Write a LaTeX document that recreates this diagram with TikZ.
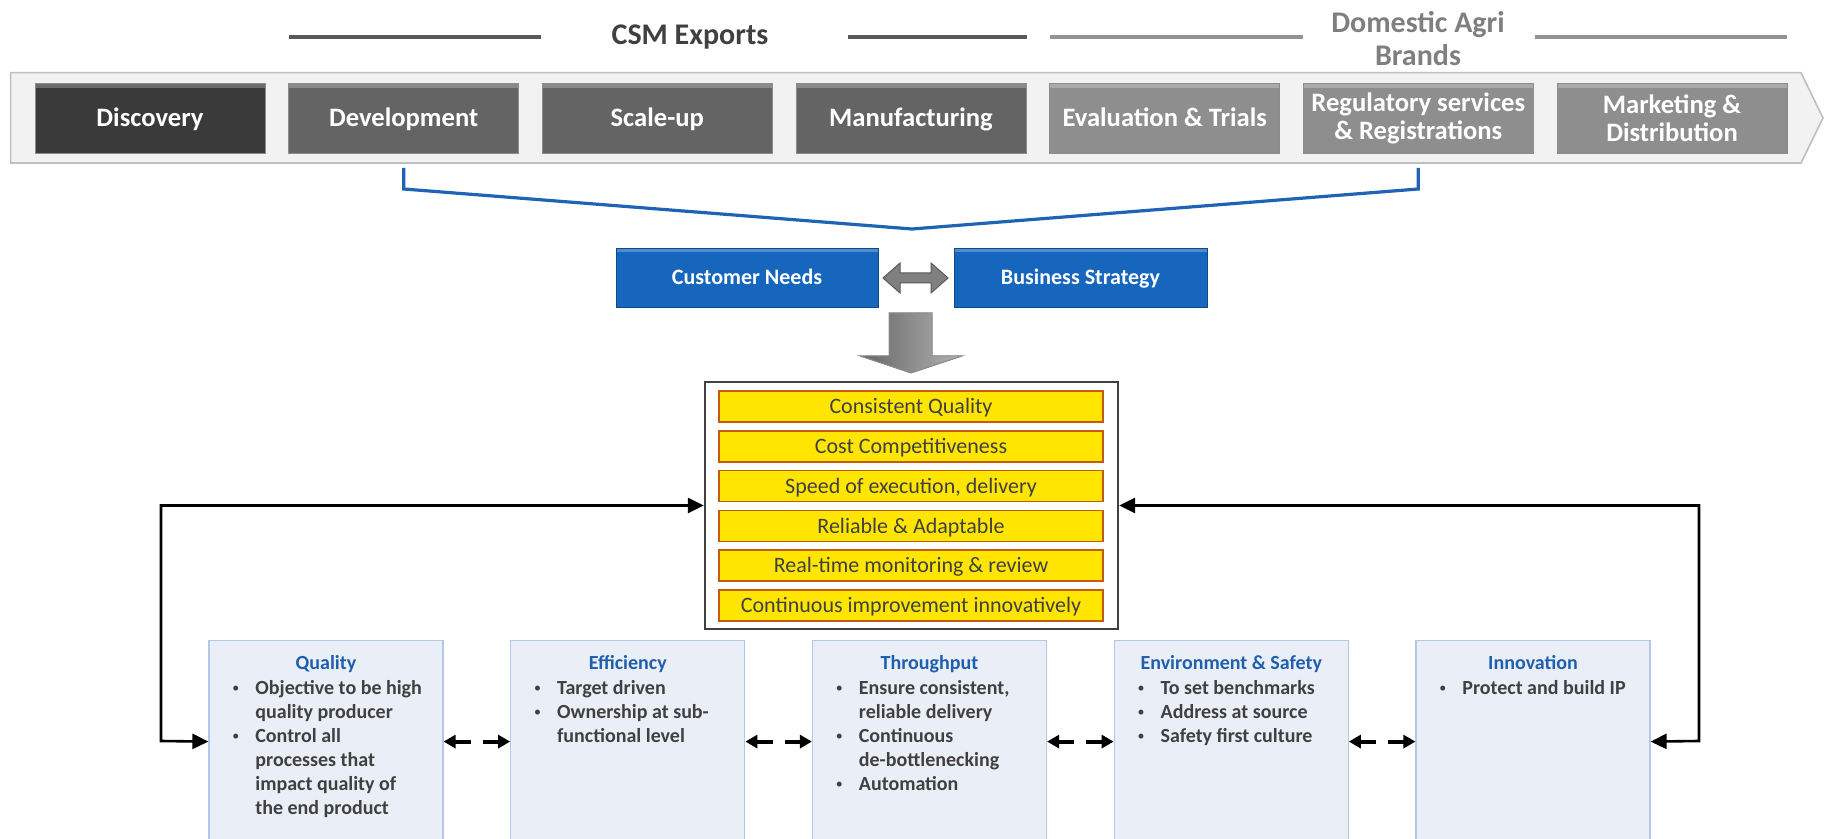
\documentclass[tikz,border=0pt]{standalone}
\usepackage{fontspec}
\setmainfont{Carlito}
\usetikzlibrary{arrows.meta,positioning}

\definecolor{bannerfill}{HTML}{F2F2F2}
\definecolor{banneredge}{HTML}{BFBFBF}
\definecolor{stageA}{HTML}{3A3A3A}
\definecolor{stageB}{HTML}{646464}
\definecolor{stageC}{HTML}{8E8E8E}
\definecolor{needblue}{HTML}{1766BE}
\definecolor{bracketblue}{HTML}{1F63B4}
\definecolor{goalyellow}{HTML}{FFE500}
\definecolor{goaledge}{HTML}{C55A11}
\definecolor{textgray}{HTML}{404040}
\definecolor{aspectfill}{HTML}{E9EEF7}
\definecolor{aspectedge}{HTML}{B4C7E7}
\definecolor{titleblue}{HTML}{1F5FAE}
\definecolor{csmgray}{HTML}{595959}
\definecolor{agrigray}{HTML}{939393}
\definecolor{agritext}{HTML}{7F7F7F}

\newcommand\pts[1]{\begin{tabular}[t]{@{}p{11.5pt}@{}l@{}}#1\end{tabular}}
\newcommand\bul{{\mdseries\fontsize{7}{7}\selectfont\raisebox{0.6pt}{\textbullet}}}

\begin{document}
\begin{tikzpicture}[x=0.5pt,y=-0.5pt,
	every node/.style={inner sep=0pt},
	stage/.style={draw=black!45, fill=#1, text=white, minimum width=115pt,
		minimum height=35pt, align=center, font=\bfseries\fontsize{13.3}{14}\selectfont,
		path picture={\fill[white,opacity=.25] (path picture bounding box.north west)
			rectangle ([yshift=-2.5pt]path picture bounding box.north east);}},
	oneline/.style={text height=9.5pt, text depth=0.95pt},
	need/.style={draw=needblue!70!black, fill=needblue, text=white, minimum height=29.5pt,
		font=\bfseries\fontsize{11}{13}\selectfont, text height=8pt, text depth=0.9pt,
		path picture={\fill[white,opacity=.25] (path picture bounding box.north west)
			rectangle ([yshift=-2pt]path picture bounding box.north east);}},
	goal/.style={draw=goaledge, line width=0.8pt, fill=goalyellow, text=textgray,
		minimum width=192pt, minimum height=15.5pt, font=\fontsize{11}{13}\selectfont,
		text height=8pt, text depth=0.9pt},
	aspect/.style={draw=aspectedge, line width=0.6pt, fill=aspectfill, minimum width=117pt,
		minimum height=101pt, anchor=north},
	aspecttitle/.style={text=titleblue, font=\bfseries\fontsize{10}{12}\selectfont, anchor=base},
	aspectlist/.style={text=textgray, font=\bfseries\fontsize{10}{12}\selectfont, anchor=base west},
	loop/.style={line width=1.3pt, {Triangle[length=8pt,width=7.5pt]}-{Triangle[length=8pt,width=7.5pt]}},
	link/.style={line width=2pt, {Triangle[length=6pt,width=6.5pt]}-{Triangle[length=6pt,width=6.5pt]},
		dash pattern=on 8pt off 6pt on 8pt off 30pt},
	bracket/.style={draw=bracketblue, line width=1.6pt}]

	\useasboundingbox (0,0) rectangle (1826,839);

	% group headings
	\node[font=\bfseries\fontsize{15}{16.5}\selectfont, text=textgray] (csm) at (690,37) {CSM Exports};
	\node[font=\bfseries\fontsize{15}{16.5}\selectfont, text=agritext, align=center] (agri) at (1418,38.5) {Domestic Agri\\Brands};
	\draw[csmgray, line width=1.6pt] (289,37) -- (541,37);
	\draw[csmgray, line width=1.6pt] (848,37) -- (1027,37);
	\draw[agrigray, line width=1.6pt] (1050,37) -- (1303,37);
	\draw[agrigray, line width=1.6pt] (1535,37) -- (1787,37);

	% value chain
	\filldraw[fill=bannerfill, draw=banneredge, line width=0.8pt]
		(10.6,72.7) -- (1801,72.7) -- (1823,118) -- (1801,163) -- (10.6,163) -- cycle;

	\node[stage=stageA, oneline] (disc) at (150,118) {Discovery};
	\node[stage=stageB, oneline] (dev) at (403.7,118) {Development};
	\node[stage=stageB, oneline] (scl) at (657.3,118) {Scale-up};
	\node[stage=stageB, oneline] (mfg) at (911,118) {Manufacturing};
	\node[stage=stageC, oneline] (eval) at (1164.7,118) {Evaluation \& Trials};
	\node[stage=stageC] (reg) at (1418.3,118) {Regulatory services\\\& Registrations};
	\node[stage=stageC] (mkt) at (1672,118) {Marketing \&\\Distribution};

	\draw[bracket] (dev.south |- 0,168) -- (dev.south |- 0,189) -- (912,229)
		-- (reg.south |- 0,189) -- (reg.south |- 0,168);

	% drivers
	\node[need, minimum width=131pt] (cust) at (747,277.5) {Customer Needs};
	\node[need, minimum width=126.5pt] (biz) at (1080.5,277.5) {Business Strategy};

	\filldraw[fill=black!50, draw=black!65, line width=0.5pt]
		(883,278) -- (900,263) -- (900,273) -- (931,273) -- (931,263) -- (948,278)
		-- (931,293) -- (931,283) -- (900,283) -- (900,293) -- cycle;

	\filldraw[left color=black!60, right color=black!30, draw=black!45, line width=0.5pt]
		(889,313) -- (932,313) -- (932,356) -- (962,356) -- (911,373) -- (860,356) -- (889,356) -- cycle;

	% goals
	\node[draw=textgray, line width=1.2pt, minimum width=206.5pt, minimum height=123.5pt] (goals) at (911.5,505.5) {};

	\node[goal] (g1) at (911,406.5) {Consistent Quality};
	\node[goal, below=3.6pt of g1] (g2) {Cost Competitiveness};
	\node[goal, below=3.6pt of g2] (g3) {Speed of execution, delivery};
	\node[goal, below=3.6pt of g3] (g4) {Reliable \& Adaptable};
	\node[goal, below=3.6pt of g4] (g5) {Real-time monitoring \& review};
	\node[goal, below=3.6pt of g5] (g6) {Continuous improvement innovatively};

	% focus areas
	\node[aspect] (qual) at (326,640) {};
	\node[aspect] (eff) at (627.75,640) {};
	\node[aspect] (thru) at (929.5,640) {};
	\node[aspect] (env) at (1231.25,640) {};
	\node[aspect] (inno) at (1533,640) {};

	\node[aspecttitle] at (326,669) {Quality};
	\node[aspecttitle] at (627.75,669) {Efficiency};
	\node[aspecttitle] at (929.5,669) {Throughput};
	\node[aspecttitle] at (1231.25,669) {Environment \& Safety};
	\node[aspecttitle] at (1533,669) {Innovation};

	\node[aspectlist] at (232,694) {\pts{\bul & Objective to be high\\ & quality producer\\
		\bul & Control all\\ & processes that\\ & impact quality of\\ & the end product}};
	\node[aspectlist] at (533.75,694) {\pts{\bul & Target driven\\ \bul & Ownership at sub-\\ & functional level}};
	\node[aspectlist] at (835.5,694) {\pts{\bul & Ensure consistent,\\ & reliable delivery\\
		\bul & Continuous\\ & de-bottlenecking\\ \bul & Automation}};
	\node[aspectlist] at (1137.25,694) {\pts{\bul & To set benchmarks\\ \bul & Address at source\\ \bul & Safety first culture}};
	\node[aspectlist] at (1439,694) {\pts{\bul & Protect and build IP}};

	\draw[link] (qual.east) -- (eff.west);
	\draw[link] (eff.east) -- (thru.west);
	\draw[link] (thru.east) -- (env.west);
	\draw[link] (env.east) -- (inno.west);

	% feedback loops
	\coordinate (lft) at (161,741);
	\coordinate (rgt) at (1699,741);
	\draw[loop] (goals.west) -| (lft) -- (qual.west);
	\draw[loop] (goals.east) -| (rgt) -- (inno.east);
\end{tikzpicture}
\end{document}
